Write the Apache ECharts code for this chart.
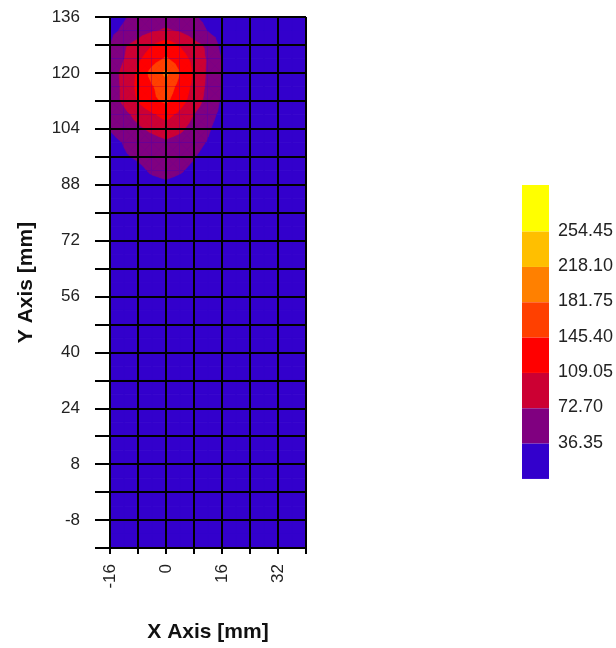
<!DOCTYPE html>
<html>
<head>
<meta charset="utf-8">
<script src="https://cdn.jsdelivr.net/npm/echarts@6/dist/echarts.min.js"></script>
<style>
html,body{margin:0;padding:0;background:#ffffff;}
#chart{width:616px;height:648px;}
</style>
</head>
<body>
<div id="chart"></div>
<script>
// grid node positions (mm)
const xNodes = [-16,-12,-8,-4,0,4,8,12,16,20,24,28,32,36,40];
const yNodes = [136,132,128,124,120,116,112,108,104,100,96,92,88,84,80,76,72,68,64,60,56,52,48,44,40,36,32,28,24,20,16,12,8,4,0,-4,-8,-12,-16];
// values at nodes, one row per yNodes entry, one column per xNodes entry
const zValues = [
  [22,33,48,58,62,55,40,26,16,8,3,1,0,0,0],
  [28,42,58,70,76,70,56,35,22,11,4,1,0,0,0],
  [36,68,84,108,127,106,82,66,26,14,5,2,0,0,0],
  [46,72,102,130,150,127,98,68,34,16,6,2,0,0,0],
  [55,82,115,158,190,146,104,66,34,16,6,2,0,0,0],
  [55,80,118,142,168,132,100,64,33,15,6,2,0,0,0],
  [52,80,112,138,152,124,92,60,32,14,5,2,0,0,0],
  [42,62,84,104,120,100,72,48,28,12,5,1,0,0,0],
  [38,52,66,80,92,80,58,40,22,10,4,1,0,0,0],
  [26,38,50,58,66,58,46,34,18,8,3,1,0,0,0],
  [18,33,40,47,54,47,38,26,14,6,2,0,0,0,0],
  [12,22,30,40,44,39,30,20,10,4,1,0,0,0,0],
  [8,15,22,28,32,28,22,14,7,2,0,0,0,0,0],
  [4,9,14,18,20,18,14,9,4,1,0,0,0,0,0],
  [2,5,8,10,11,10,8,5,2,0,0,0,0,0,0],
  [1,2,3,4,5,4,3,2,1,0,0,0,0,0,0],
  [0,0,0,0,0,0,0,0,0,0,0,0,0,0,0],
  [0,0,0,0,0,0,0,0,0,0,0,0,0,0,0],
  [0,0,0,0,0,0,0,0,0,0,0,0,0,0,0],
  [0,0,0,0,0,0,0,0,0,0,0,0,0,0,0],
  [0,0,0,0,0,0,0,0,0,0,0,0,0,0,0],
  [0,0,0,0,0,0,0,0,0,0,0,0,0,0,0],
  [0,0,0,0,0,0,0,0,0,0,0,0,0,0,0],
  [0,0,0,0,0,0,0,0,0,0,0,0,0,0,0],
  [0,0,0,0,0,0,0,0,0,0,0,0,0,0,0],
  [0,0,0,0,0,0,0,0,0,0,0,0,0,0,0],
  [0,0,0,0,0,0,0,0,0,0,0,0,0,0,0],
  [0,0,0,0,0,0,0,0,0,0,0,0,0,0,0],
  [0,0,0,0,0,0,0,0,0,0,0,0,0,0,0],
  [0,0,0,0,0,0,0,0,0,0,0,0,0,0,0],
  [0,0,0,0,0,0,0,0,0,0,0,0,0,0,0],
  [0,0,0,0,0,0,0,0,0,0,0,0,0,0,0],
  [0,0,0,0,0,0,0,0,0,0,0,0,0,0,0],
  [0,0,0,0,0,0,0,0,0,0,0,0,0,0,0],
  [0,0,0,0,0,0,0,0,0,0,0,0,0,0,0],
  [0,0,0,0,0,0,0,0,0,0,0,0,0,0,0],
  [0,0,0,0,0,0,0,0,0,0,0,0,0,0,0],
  [0,0,0,0,0,0,0,0,0,0,0,0,0,0,0],
  [0,0,0,0,0,0,0,0,0,0,0,0,0,0,0]
];
const levels = [36.35,72.70,109.05,145.40,181.75,218.10,254.45];
const levelLabels = ['36.35','72.70','109.05','145.40','181.75','218.10','254.45'];
const bandColors = ['#3300CC','#800080','#CC0033','#FF0000','#FF4000','#FF8000','#FFBF00','#FFFF00'];
const zMin = 0;
const zMax = 290.8;
const xTickLabels = [-16,0,16,32];
const yTickLabels = [-8,8,24,40,56,72,88,104,120,136];

const FONT = '"Liberation Sans", Arial, sans-serif';

// cells of the node grid
const cells = [];
for (let j = 0; j < yNodes.length - 1; j++) {
  for (let i = 0; i < xNodes.length - 1; i++) {
    cells.push([xNodes[i], yNodes[j], i, j]);
  }
}

function clipAbove(poly, t) {
  const out = [];
  for (let a = 0; a < poly.length; a++) {
    const P = poly[a], Q = poly[(a + 1) % poly.length];
    const pin = P[2] >= t, qin = Q[2] >= t;
    if (pin) out.push(P);
    if (pin !== qin) {
      const f = (t - P[2]) / (Q[2] - P[2]);
      out.push([P[0] + f * (Q[0] - P[0]), P[1] + f * (Q[1] - P[1]), t]);
    }
  }
  return out;
}

function renderItem(params, api) {
  const i = api.value(2), j = api.value(3);
  const c = [
    [xNodes[i], yNodes[j], zValues[j][i]],
    [xNodes[i + 1], yNodes[j], zValues[j][i + 1]],
    [xNodes[i + 1], yNodes[j + 1], zValues[j + 1][i + 1]],
    [xNodes[i], yNodes[j + 1], zValues[j + 1][i]]
  ];
  const mid = [
    (c[0][0] + c[1][0]) / 2,
    (c[0][1] + c[3][1]) / 2,
    (c[0][2] + c[1][2] + c[2][2] + c[3][2]) / 4
  ];
  const toPx = q => api.coord([q[0], q[1]]);
  const children = [{
    type: 'polygon',
    shape: { points: c.map(toPx) },
    style: { fill: bandColors[0], stroke: bandColors[0], lineWidth: 0.8 }
  }];
  const cellMax = Math.max(c[0][2], c[1][2], c[2][2], c[3][2]);
  for (let k = 1; k < bandColors.length; k++) {
    if (cellMax < levels[k - 1]) break;
    for (let e = 0; e < 4; e++) {
      const tri = [c[e], c[(e + 1) % 4], mid];
      const poly = clipAbove(tri, levels[k - 1]);
      if (poly.length < 3) continue;
      children.push({
        type: 'polygon',
        shape: { points: poly.map(toPx) },
        style: { fill: bandColors[k], stroke: bandColors[k], lineWidth: 0.6 }
      });
    }
  }
  return { type: 'group', children: children };
}

// colour bar pieces
const barPieces = bandColors.map((col, k) => ({
  min: k === 0 ? zMin : levels[k - 1],
  max: k < levels.length ? levels[k] : zMax,
  color: col
}));
// boundary labels (centred on the boundaries between colour pieces)
const labelPieces = levels.map((lv, k) => ({
  min: lv - 1, max: lv + 1, label: levelLabels[k], color: 'rgba(0,0,0,0)'
}));
// the top (open-ended) band of the bar is drawn taller in the original
const topPiece = [{ min: levels[levels.length - 1], max: zMax, color: bandColors[bandColors.length - 1] }];

const chart = echarts.init(document.getElementById('chart'), null, { renderer: 'canvas' });
chart.setOption({
  animation: false,
  backgroundColor: '#ffffff',
  grid: { left: 110, top: 17, width: 196, height: 531, containLabel: false },
  xAxis: {
    type: 'value', min: -16, max: 40, interval: 8, z: 5,
    axisLine: { show: true, onZero: false, lineStyle: { color: '#000', width: 2 } },
    axisTick: { show: true, length: 6, lineStyle: { color: '#000', width: 2 } },
    axisLabel: {
      rotate: 90, margin: 16, fontSize: 17, color: '#222', fontFamily: FONT,
      formatter: v => (xTickLabels.indexOf(v) >= 0 ? String(v) : '')
    },
    splitLine: { show: true, lineStyle: { color: '#000', width: 2 } },
    name: 'X Axis [mm]', nameLocation: 'middle', nameGap: 74,
    nameTextStyle: { fontSize: 21, fontWeight: 'bold', color: '#111', fontFamily: FONT }
  },
  yAxis: {
    type: 'value', min: -16, max: 136, interval: 8, z: 5,
    axisLine: { show: true, onZero: false, lineStyle: { color: '#000', width: 2 } },
    axisTick: { show: true, length: 15, lineStyle: { color: '#000', width: 2 } },
    axisLabel: {
      margin: 30, fontSize: 17, color: '#222', fontFamily: FONT,
      formatter: v => (yTickLabels.indexOf(v) >= 0 ? String(v) : '')
    },
    splitLine: { show: true, lineStyle: { color: '#000', width: 2 } },
    name: 'Y Axis [mm]', nameLocation: 'middle', nameGap: 73, nameRotate: 90,
    nameTextStyle: { fontSize: 21, fontWeight: 'bold', color: '#111', fontFamily: FONT }
  },
  visualMap: [{
    type: 'piecewise', seriesIndex: [], orient: 'vertical', align: 'left', padding: 0,
    left: 522, top: 196.3, itemWidth: 27, itemHeight: 35.33, itemGap: 0,
    itemSymbol: 'rect', showLabel: false, selectedMode: false, hoverLink: false,
    pieces: barPieces
  }, {
    type: 'piecewise', seriesIndex: [], orient: 'vertical', align: 'left', padding: 0,
    left: 522, top: 185, itemWidth: 27, itemHeight: 12, itemGap: 0,
    itemSymbol: 'rect', showLabel: false, selectedMode: false, hoverLink: false,
    pieces: topPiece
  }, {
    type: 'piecewise', seriesIndex: [], orient: 'vertical', align: 'left', padding: 0,
    left: 522, top: 213, itemWidth: 27, itemHeight: 35.33, itemGap: 0,
    itemSymbol: 'rect', textGap: 9, showLabel: true, selectedMode: false, hoverLink: false,
    pieces: labelPieces,
    textStyle: { fontSize: 18, color: '#222', fontFamily: FONT }
  }],
  series: [{
    type: 'custom',
    coordinateSystem: 'cartesian2d',
    renderItem: renderItem,
    data: cells,
    encode: { x: 0, y: 1 },
    clip: true,
    silent: true,
    z: 2
  }]
});
</script>
</body>
</html>
